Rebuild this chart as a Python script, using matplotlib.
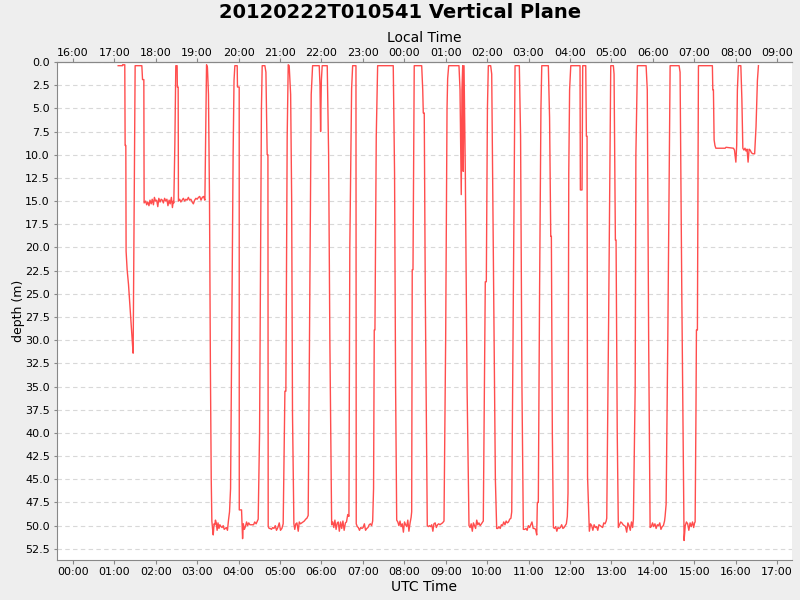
import matplotlib
matplotlib.use("Agg")
import matplotlib.pyplot as plt
import numpy as np

title = "20120222T010541 Vertical Plane"
utc_offset = -8  # local time = UTC - 8 h

# minutes after 00:00 UTC
minutes = [
    65.7, 72.0, 72.1, 75.3, 75.8, 76.8, 77.2, 78.7, 80.7, 82.2, 83.6, 85.1, 86.5, 87.4,
    90.3, 100.0, 101.0, 102.9, 103.3,
    105.5, 107.0, 108.6, 110.3, 111.8, 113.5, 115.0, 116.8, 118.2, 119.9, 121.5, 123.1,
    124.6, 126.4, 128.0, 129.7, 131.2, 133.0, 134.6, 136.3, 137.8, 139.5, 141.0, 142.8,
    144.3, 145.5, 146.3, 147.8, 149.2, 151.1, 151.4, 152.6, 153.0,
    154.8, 156.5, 158.3, 160.1, 162.0, 163.8, 165.5, 167.4, 169.2, 171.0, 172.9, 174.6,
    176.5, 178.3, 180.1, 182.0, 183.8, 185.7, 187.5, 189.4, 191.3,
    193.7, 195.0, 196.5, 198.0, 199.3, 200.5, 201.4, 202.5, 203.4, 204.6, 205.7, 206.6,
    207.8, 209.0, 210.3, 211.7, 213.0, 214.6, 216.2, 217.8, 219.3, 220.9, 222.4, 224.0,
    225.5, 227.0, 228.5, 230.2, 232.2, 233.5, 234.7, 238.1, 238.5, 241.0, 241.1, 244.4,
    245.9, 247.0, 248.5, 250.0, 251.7, 253.2, 254.8, 256.5, 258.2, 260.0, 261.8, 263.5,
    265.5, 268.5, 270.5, 272.0, 273.2, 274.3, 278.2, 279.7, 281.5, 282.6, 283.0, 284.4,
    286.0, 287.7, 289.5, 291.3, 293.2, 295.0, 297.0, 299.0, 300.8, 302.8, 304.7, 307.2,
    308.6, 310.5, 312.0, 313.4, 315.5, 317.0, 318.2, 320.2, 321.5, 323.0, 324.6, 326.5,
    328.0, 329.8, 331.7, 333.5, 335.3, 337.3, 339.0, 340.9, 342.4, 345.3, 347.3, 356.9,
    358.0, 358.9, 360.0, 361.2, 368.5, 370.5, 372.3, 374.9, 376.5, 378.0, 379.6, 381.3,
    383.0, 384.5, 386.0, 387.8, 389.5, 391.2, 393.0, 394.8, 396.4, 398.2, 399.9, 401.2,
    403.8, 405.3, 407.6, 410.1, 410.5, 412.0, 413.5, 415.2, 417.0, 418.8, 420.5, 422.3,
    424.0, 425.8, 427.5, 429.3, 431.0, 432.8, 434.3, 435.6, 436.6, 437.6, 439.5, 441.5,
    464.1, 466.0, 467.5, 469.1, 470.7, 472.3, 473.9, 475.5, 477.2, 478.8, 480.4, 482.0,
    483.6, 485.2, 486.8, 488.5, 490.0, 490.8, 491.6, 492.7, 494.5, 505.3, 506.8, 507.6,
    509.0, 510.5, 513.4, 515.0, 516.6, 518.2, 519.8, 521.5, 523.0, 524.8, 526.5, 528.3,
    530.0, 531.8, 533.5, 535.5, 537.6, 540.0, 542.0, 542.9, 544.4, 559.3, 560.8, 562.6,
    563.6, 564.7, 565.5, 566.6, 568.5, 571.0, 573.8, 575.4, 577.0, 578.6, 580.2, 581.8,
    583.4, 585.0, 586.6, 588.2, 590.0, 591.8, 593.5, 594.5, 597.4, 598.9, 600.5, 601.8,
    605.2, 606.7, 609.5, 612.0, 613.9, 615.6, 617.2, 619.0, 620.7, 622.4, 624.1, 625.9,
    627.6, 629.3, 631.0, 632.8, 634.5, 635.7, 638.0, 640.5, 646.7, 648.5, 650.5, 652.5,
    654.5, 656.3, 658.0, 659.8, 661.6, 663.3, 665.0, 666.8, 668.5, 670.3, 671.9, 672.8,
    674.2, 676.0, 678.0, 679.2, 688.7, 690.5, 692.2, 693.1, 694.5, 696.0, 697.6, 699.3,
    701.0, 702.7, 704.4, 706.2, 708.0, 709.8, 711.5, 713.2, 714.8, 716.2, 717.2, 718.3,
    719.5, 721.2, 734.6, 735.1, 737.5, 738.5, 740.0, 742.9, 743.8, 744.8, 745.5, 748.1,
    749.8, 751.5, 753.2, 755.0, 756.8, 758.5, 760.3, 762.0, 763.8, 765.5, 767.3, 769.0,
    770.8, 772.5, 773.3, 776.0, 779.1, 782.9, 783.9, 785.8, 786.8, 788.5, 790.1, 791.8,
    793.5, 795.2, 797.0, 798.7, 800.5, 802.2, 803.9, 805.6, 807.4, 809.1, 810.8, 811.9,
    814.5, 815.5, 817.7, 830.3, 832.0, 834.0, 836.1, 837.8, 839.6, 841.3, 843.1, 844.8,
    846.6, 848.3, 850.1, 851.8, 853.6, 855.3, 857.0, 857.8, 859.3, 861.7, 865.1, 878.1,
    879.5, 882.0, 885.3, 887.0, 888.7, 890.5, 892.2, 894.0, 895.7, 897.5, 899.2, 900.5,
    901.3, 902.5, 903.2, 904.6, 906.1, 926.3, 926.9, 927.8, 928.8, 930.0, 931.3, 944.8,
    946.0, 956.8, 958.3, 960.3, 961.5, 962.5, 964.0, 967.5, 969.0, 970.4, 972.0, 973.5,
    975.0, 976.5, 978.0, 979.5, 981.0, 983.0, 985.0, 987.5, 989.5, 991.5, 993.0,
]

depth = [
    0.4, 0.4, 0.3, 0.3, 9.0, 9.0, 20.4, 22.4, 24.0, 25.7, 27.3, 28.9, 30.5, 31.4,
    0.4, 0.4, 1.9, 1.9, 15.2,
    15.0, 15.4, 15.1, 15.5, 14.9, 15.3, 14.8, 15.4, 14.6, 15.0, 14.9, 15.6,
    14.7, 15.1, 14.8, 14.9, 15.2, 14.7, 15.0, 14.8, 15.5, 14.9, 15.3, 14.6,
    15.7, 15.0, 15.2, 8.9, 0.4, 0.4, 2.7, 2.7, 15.0,
    14.8, 15.1, 14.9, 14.7, 15.0, 14.8, 14.9, 14.6, 14.9, 14.8, 15.1, 15.3,
    14.9, 14.7, 14.8, 14.6, 14.5, 14.9, 14.6, 14.5, 14.9,
    0.3, 0.6, 3.5, 15.0, 33.0, 45.0, 49.5, 50.4, 51.0, 49.8, 49.9, 49.4,
    49.7, 50.5, 49.7, 50.3, 49.9, 50.1, 50.2, 50.0, 50.4, 50.3, 50.2, 50.5,
    49.4, 48.5, 46.0, 30.0, 10.0, 2.0, 0.4, 0.4, 2.7, 2.7, 48.3, 48.3,
    51.4, 49.8, 50.4, 50.1, 49.6, 50.0, 49.7, 49.9, 49.9, 49.9, 49.9, 49.6,
    49.8, 49.3, 40.0, 20.0, 5.0, 0.4, 0.4, 1.1, 10.0, 10.0, 50.1, 50.3,
    50.3, 50.4, 50.2, 50.3, 50.0, 50.5, 50.2, 49.7, 50.5, 50.3, 49.8, 35.5,
    35.5, 8.0, 0.3, 0.4, 3.5, 15.0, 38.0, 49.8, 50.4, 49.8, 49.7, 50.6,
    49.6, 49.8, 49.7, 49.6, 49.5, 49.3, 49.2, 48.9, 34.1, 3.5, 0.4, 0.4,
    2.5, 7.5, 2.0, 0.4, 0.4, 10.0, 30.0, 49.9, 49.6, 50.2, 49.4, 50.4,
    49.7, 49.6, 50.6, 49.6, 50.3, 49.5, 50.5, 49.7, 49.6, 48.8, 49.0, 20.0,
    2.9, 0.4, 0.4, 0.4, 49.8, 50.1, 50.2, 50.5, 50.2, 50.3, 50.2, 49.8,
    50.5, 50.3, 50.2, 49.9, 49.8, 50.0, 49.5, 46.0, 28.9, 28.9, 8.0, 0.4,
    0.4, 12.0, 35.0, 49.4, 49.6, 50.0, 49.5, 50.1, 49.8, 50.7, 49.6, 49.9,
    50.1, 49.4, 50.6, 49.7, 49.1, 48.5, 22.4, 22.4, 0.4, 0.4, 3.0, 5.5,
    5.5, 25.0, 50.0, 50.1, 50.0, 50.1, 49.9, 50.6, 49.8, 49.7, 50.2, 49.9,
    49.8, 49.9, 49.8, 49.7, 49.5, 30.0, 5.0, 1.8, 0.4, 0.4, 3.0, 14.3,
    3.0, 0.4, 11.8, 0.4, 12.0, 35.0, 50.0, 50.2, 49.8, 50.6, 49.7, 50.0,
    50.3, 49.4, 49.9, 49.7, 50.0, 49.8, 49.6, 49.5, 23.7, 23.7, 5.0, 0.4,
    0.4, 1.3, 25.0, 45.0, 50.3, 50.3, 50.1, 50.3, 49.9, 50.0, 49.6, 49.9,
    49.5, 49.7, 49.6, 49.3, 49.2, 48.5, 25.0, 0.4, 0.4, 8.0, 35.0, 50.4,
    50.4, 50.3, 50.5, 50.0, 50.2, 49.9, 49.6, 50.3, 50.3, 50.4, 51.0, 47.5,
    47.5, 25.0, 5.0, 0.4, 0.4, 6.0, 18.8, 18.8, 40.0, 50.2, 50.3, 50.1,
    50.6, 50.2, 50.3, 50.2, 49.9, 50.3, 50.2, 50.0, 49.8, 49.0, 46.5, 12.0,
    3.0, 0.4, 0.4, 13.8, 13.8, 0.4, 0.4, 0.4, 8.0, 8.0, 44.7, 50.6,
    49.8, 50.0, 50.5, 49.9, 50.2, 50.1, 50.5, 49.9, 50.0, 50.1, 50.2, 49.7,
    49.8, 49.5, 49.2, 28.0, 0.4, 0.4, 1.3, 19.2, 19.2, 40.0, 50.2, 49.9,
    49.6, 49.7, 49.9, 50.0, 50.1, 50.7, 49.7, 50.0, 50.5, 49.6, 50.2, 49.3,
    35.0, 10.0, 0.4, 0.4, 3.0, 30.0, 50.2, 50.1, 49.7, 50.1, 49.8, 50.3,
    49.9, 50.0, 49.7, 50.4, 50.1, 50.0, 49.5, 49.0, 47.7, 30.0, 0.4, 0.4,
    1.1, 25.0, 51.6, 50.0, 49.6, 49.8, 50.5, 49.7, 50.1, 49.6, 50.2, 49.7,
    49.6, 38.0, 28.9, 28.9, 0.4, 0.4, 3.0, 3.0, 8.4, 9.0, 9.3, 9.3,
    9.2, 9.3, 9.5, 10.8, 9.0, 3.0, 0.4, 0.4, 4.0, 9.3, 9.5, 9.3,
    9.6, 9.4, 10.8, 9.4, 9.5, 9.8, 9.9, 9.9, 7.0, 2.0, 0.4,
]

utc_hours = list(range(0, 18))

hours = np.array(minutes) / 60.0
depth = np.array(depth)

fig = plt.figure(figsize=(8, 6), dpi=100, facecolor="#eeeeee")
ax = fig.add_axes([0.071, 0.0667, 0.919, 0.83])
ax.set_facecolor("white")

ax.plot(hours, depth, color="#ff4d4d", lw=1.0)

ax.set_xlim(-0.386, 17.36)
ax.set_ylim(53.7, 0)
yt = np.arange(0, 53, 2.5)
ax.set_yticks(yt)
ax.set_yticklabels([f"{v:.1f}" for v in yt])
ax.set_xticks(utc_hours)
ax.set_xticklabels([f"{h:02d}:00" for h in utc_hours])

ax.grid(axis="y", color="#d8d8d8", ls=(0, (4, 3)), lw=0.8)
ax.grid(axis="x", visible=False)

for side in ["left", "bottom", "top"]:
    ax.spines[side].set_color("#888888")
ax.spines["right"].set_visible(False)
ax.tick_params(axis="x", colors="#888888", labelcolor="black", labelsize=8, length=3, pad=2)
ax.tick_params(axis="y", colors="#888888", labelcolor="black", labelsize=8, length=2, pad=3)

ax.set_xlabel("UTC Time", fontsize=10, labelpad=2.5)
ax.set_ylabel("depth (m)", fontsize=9, labelpad=0)

top = ax.secondary_xaxis("top")
top.set_xticks(utc_hours)
top.set_xticklabels([f"{(h + utc_offset) % 24:02d}:00" for h in utc_hours])
top.tick_params(colors="#888888", labelcolor="black", labelsize=8, length=3, pad=0)
top.spines["top"].set_color("#888888")
top.set_xlabel("Local Time", fontsize=10, labelpad=4.5)

fig.suptitle(title, fontsize=14, fontweight="bold", y=0.995)

fig.savefig("out.png", dpi=100, facecolor=fig.get_facecolor())
